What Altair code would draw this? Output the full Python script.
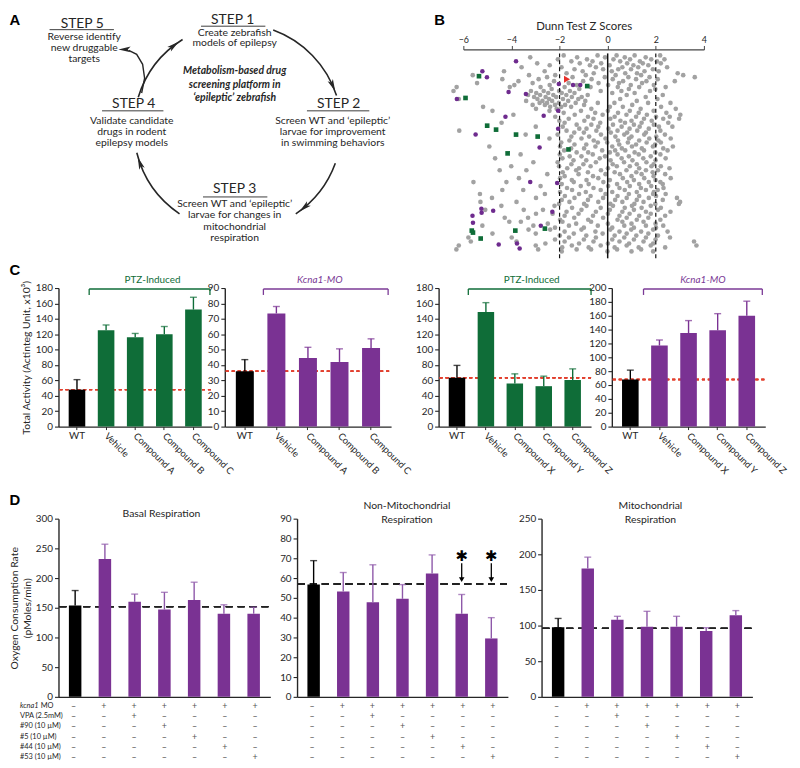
import math
import altair as alt
import pandas as pd

# ======================= DATA =======================
# ---- Panel B : Dunn test Z scores (z values of the grey compounds, per 2-px band) ----
B_ROWS = list(range(52, 251, 2))
B_GRAY = [
    [-1.83, -0.42, 0.37, 1.12, 2.18],
    [-3.22, -1.27, -0.11, 0.71, 1.58],
    [-2.07, -0.86, 0.24, 0.93, 1.81, 2.36],
    [-1.51, -0.63, 0.52, 1.34, 2.05],
    [-2.93, -1.16, -0.27, 0.81, 1.46, 2.21],
    [-2.41, -0.74, 0.08, 1.07, 1.69],
    [-3.58, -1.92, -0.49, 0.61, 1.27, 2.47],
    [-1.38, -0.19, 0.44, 0.97, 1.88],
    [-4.31, -2.62, -1.04, 0.17, 1.53, 2.12],
    [-1.71, -0.58, 0.73, 1.22, 2.91],
    [-5.61, -3.27, -2.18, -0.91, 0.33, 1.39, 3.14],
    [-2.52, -1.46, -0.12, 0.86, 1.74, 3.62],
    [-4.38, -2.87, -0.67, 0.21, 1.18, 2.08],
    [-3.71, -2.23, -1.02, 0.64, 1.61, 2.79],
    [-5.43, -3.12, -1.62, -0.38, 0.47, 1.43],
    [-3.88, -2.41, -1.28, 0.02, 0.96, 1.92],
    [-6.28, -4.07, -2.79, -1.79, -0.71, 0.42, 1.31, 2.41],
    [-2.33, -1.18, 0.88, 1.98],
    [-6.41, -3.19, -2.66, -2.02, -1.57, -0.29, 0.57, 1.76],
    [-2.97, -2.47, -1.91, -1.38, 0.19, 1.12],
    [-3.31, -2.81, -2.26, -1.72, -0.83, 0.79, 2.29],
    [-3.06, -2.58, -2.14, -1.49, -1.08, 1.58],
    [-6.19, -2.92, -2.44, -1.86, -1.22, 0.52, 2.07],
    [-3.39, -2.71, -2.31, -1.64, -0.93, 1.21],
    [-2.83, -2.52, -2.03, -1.33, -0.41, 0.28, 1.68, 2.61],
    [-3.12, -2.61, -2.19, -1.77, -0.98, 1.02],
    [-5.18, -2.39, -1.93, -1.52, 0.09, 0.63, 2.22],
    [-2.98, -2.12, -0.68, 1.37, 2.83],
    [-4.79, -2.42, -1.11, 0.01, 0.92, 1.91],
    [-1.83, -0.52, 0.43, 1.29, 2.44],
    [-3.92, -1.37, -0.21, 0.78, 1.63, 3.02],
    [-2.18, -0.82, 0.29, 1.18, 2.01, 2.58],
    [-1.62, -0.59, 0.11, 1.51, 2.31, 2.97],
    [-2.01, -0.97, 0.53, 0.99, 1.83],
    [-4.41, -1.79, -0.31, 0.72, 1.41, 2.52],
    [-1.29, -0.68, 0.22, 1.09, 1.92],
    [-2.99, -1.87, -0.39, 0.58, 1.33, 2.13, 2.69],
    [-1.18, -0.88, 0.03, 0.91, 1.71],
    [-6.17, -1.71, -0.47, 0.41, 1.23, 2.19],
    [-1.39, -0.99, 0.13, 0.81, 1.59],
    [-3.41, -2.08, -0.28, 0.69, 1.52, 2.38],
    [-1.51, -0.77, 0.32, 0.99, 2.02],
    [-2.42, -1.09, -0.09, 0.89, 1.73, 2.62],
    [-1.59, -0.58, 0.43, 1.31, 2.11],
    [-1.93, -0.41, -0.02, 0.84, 1.62, 2.21],
    [-1.38, -0.89, 0.48, 1.18, 1.97],
    [-4.92, -1.98, -0.51, 0.19, 1.01, 1.88, 2.71],
    [-1.52, -0.98, 0.59, 1.42, 2.31],
    [-1.81, -0.23, 0.31, 0.73, 1.51, 2.49],
    [-1.29, -0.81, 0.09, 1.12, 1.98],
    [-3.62, -1.99, -0.62, 0.41, 1.29, 2.19],
    [-1.58, -1.09, -0.11, 0.88, 1.79],
    [-4.68, -1.88, -0.33, 0.58, 1.48, 2.41],
    [-1.42, -0.89, 0.12, 1.03, 1.99],
    [-3.09, -2.08, -0.49, 0.68, 1.61],
    [-1.51, -1.01, 0.21, 1.21, 1.91],
    [-4.01, -2.02, -0.71, 0.38, 0.92, 1.82, 2.21],
    [-1.68, -1.19, 0.01, 1.31, 2.57],
    [-4.49, -3.38, -1.31, -0.28, 0.78, 1.59, 2.09],
    [-1.87, -0.82, 0.29, 1.19, 1.87],
    [-2.51, -1.21, -0.09, 0.51, 1.41, 2.39],
    [-1.79, -0.61, 0.99, 1.91],
    [-3.69, -1.98, -0.39, 0.63, 1.52, 2.62],
    [-1.49, -0.88, 0.09, 1.09, 1.99],
    [-5.58, -4.21, -1.41, -0.18, 0.81, 1.71, 2.19],
    [-1.91, -0.79, 0.39, 1.31, 2.29],
    [-2.79, -1.12, 0.02, 0.92, 1.81],
    [-1.69, -0.59, 0.49, 1.38, 2.32],
    [-4.38, -3.51, -1.48, -0.29, 0.71, 1.59, 2.08],
    [-1.98, -0.91, 0.19, 1.21, 1.92],
    [-5.31, -2.61, -1.19, -0.09, 0.88, 1.89, 2.41],
    [-1.78, -0.71, 0.41, 1.31, 2.01],
    [-4.81, -2.98, -1.38, -0.19, 0.79, 1.71, 2.88],
    [-1.91, -0.82, 0.31, 1.21, 2.29],
    [-5.29, -3.79, -1.59, -0.39, 0.61, 1.49, 3.01],
    [-2.02, -0.98, 0.11, 1.11, 1.98, 2.96],
    [-4.42, -2.21, -0.88, 0.22, 1.01, 1.79],
    [-1.48, -0.29, 0.71, 1.41, 2.21],
    [-5.09, -3.49, -2.69, -1.09, 0.09, 1.09, 2.09],
    [-1.71, -0.49, 0.61, 1.59, 2.61],
    [-2.98, -2.29, -1.21, 0.01, 0.91, 1.79],
    [-1.79, -0.61, 0.49, 1.31, 2.39],
    [-4.28, -3.31, -1.39, -0.19, 0.79, 1.69],
    [-1.98, -0.81, 0.41, 1.21, 2.19],
    [-4.09, -3.61, -1.88, -0.69, 0.61, 1.49],
    [-2.49, -1.31, 0.01, 0.99, 1.99],
    [-5.21, -3.09, -1.61, -0.41, 0.69, 1.59, 2.31],
    [-2.19, -0.99, 0.19, 1.09, 2.01],
    [-3.29, -2.39, -1.09, 0.11, 0.98, 1.89],
    [-1.79, -0.51, 0.49, 1.39, 2.49],
    [-4.79, -2.99, -1.41, -0.21, 0.79, 1.69],
    [-1.99, -0.89, 0.29, 1.19, 2.09],
    [-5.79, -3.99, -1.61, -0.49, 0.69, 1.59, 2.59],
    [-2.19, -0.99, 0.19, 1.09, 1.99],
    [-5.69, -3.79, -1.79, -0.59, 0.49, 1.49, 3.59],
    [-2.59, -1.19, 0.01, 0.89, 1.89],
    [-6.19, -2.99, -1.49, -0.29, 0.79, 1.79, 3.69],
    [-1.89, -0.79, 0.29, 1.29, 2.39],
    [-6.29, -2.89, -1.29, -0.69, 0.39, 1.39],
    [-1.91, -0.01, 0.99, 1.89],
]
B_PURPLE_Z = [-3.81, -5.21, -5.02, -2.03, -1.44, -1.14, -4.12, -3.40, -6.27, -2.06, -4.25, -2.66,
              -5.49, -2.06, -2.83, -3.22, -2.10, -2.30, -5.25, -4.76, -5.62, -5.24, -5.60, -2.78,
              -4.53, -3.77, -3.66]
B_PURPLE_ROW = [58, 68, 74, 81, 82, 82, 89, 91, 96, 108, 114, 113, 132, 126, 145, 180, 181, 210,
                207, 209, 214, 211, 221, 224, 243, 242, 247]
B_GREEN_Z = [-5.35, -0.85, -5.91, -5.01, -4.64, -3.81, -2.91, -1.63, -4.16, -5.65, -5.60, -5.28,
             -3.84, -2.61]
B_GREEN_ROW = [73, 83, 95, 123, 127, 132, 134, 147, 151, 229, 231, 237, 229, 227]
B_RED_Z = [-1.69]
B_RED_ROW = [76]

# ---- Panel C : total activity ----
C_CATS_ABC = ["WT", "Vehicle", "Compound A", "Compound B", "Compound C"]
C_CATS_XYZ = ["WT", "Vehicle", "Compound X", "Compound Y", "Compound Z"]
C1_MEAN = [48, 125, 116, 120, 152]
C1_TOP = [61, 132, 121, 130, 168]
C2_MEAN = [36, 73.5, 44.5, 42, 51]
C2_TOP = [43.5, 78, 51.5, 50.5, 57]
C3_MEAN = [63.5, 149, 56, 52.5, 60.5]
C3_TOP = [79.5, 161, 68.5, 65.5, 75]
C4_MEAN = [68, 117, 135, 139, 160]
C4_TOP = [81.5, 125, 153, 163, 181]

# ---- Panel D : oxygen consumption ----
D_CONDS = ["WT", "MO", "MO+VPA", "MO+#90", "MO+#5", "MO+#44", "MO+#53"]
D1_MEAN = [154, 232, 160, 147, 163, 140, 140]
D1_TOP = [179, 257, 173, 176, 193, 155, 151]
D2_MEAN = [56.7, 53.2, 47.8, 49.5, 62.3, 42, 29.5]
D2_TOP = [68.8, 62.8, 66.7, 56.7, 71.7, 51.7, 40]
D3_MEAN = [97.5, 180, 108, 98.5, 98.5, 92.5, 114.5]
D3_TOP = [110, 196, 113, 120, 113, 97, 121]
D_REF = [152, 57, 96]
D2_STAR_CONDS = ["MO+#44", "MO+#53"]
D_ROWS = ["kcna1 MO", "VPA (2.5mM)", "#90 (10 \u00b5M)", "#5 (10 \u00b5M)", "#44 (10 \u00b5M)", "#53 (10 \u00b5M)"]
D_SIGNS = ["-++++++", "--+----", "---+---", "----+--", "-----+-", "------+"]

# ======================= STYLE / LAYOUT =======================
OX, OY = 8, 8
W, H = 792, 760


def X(p):
    return p - OX


def Y(p):
    return p - OY


FONT = "Lato"
INK = "#262626"
GREEN = "#0f6d38"
PURPLE = "#7a3293"
PURPLE_ERR = "#8e58a9"
GRAY = "#a2a2a2"
RED = "#e2402f"

layers = []

# ======================= PANEL A (diagram) =======================
A_CX, A_CY, A_R = 240, 125, 105
ax = alt.Scale(domain=[-100, 100], range=[X(A_CX - 100), X(A_CX + 100)], nice=False, zero=False)
ay = alt.Scale(domain=[-100, 100], range=[Y(A_CY - 100), Y(A_CY + 100)], nice=False, zero=False)


def axy(xf="x", yf="y"):
    return dict(x=alt.X(f"{xf}:Q", scale=ax, axis=None), y=alt.Y(f"{yf}:Q", scale=ay, axis=None))


ARC_SEGS = [(20, 72), (110, 146), (214, 256), (287, 328)]
arc_df = pd.DataFrame({
    "x": [0] * len(ARC_SEGS), "y": [0] * len(ARC_SEGS),
    "t0": [math.radians(a) for a, b in ARC_SEGS],
    "t1": [math.radians(b) for a, b in ARC_SEGS],
})
arcs = alt.Chart(arc_df).mark_arc(radius=A_R + 0.8, innerRadius=A_R - 0.8, color=INK).encode(
    **axy(), theta=alt.Theta("t0:Q", scale=None), theta2=alt.Theta2("t1:Q"))

head_t = [b - 6 for a, b in ARC_SEGS]
head_df = pd.DataFrame({
    "x": [A_R * math.sin(math.radians(t)) for t in head_t] + [-114],
    "y": [-A_R * math.cos(math.radians(t)) for t in head_t] + [-79],
    "ang": [t + 90 for t in head_t] + [270],
})
ARROW = "M0,-1L0.45,0.9L0,0.45L-0.45,0.9Z"
heads = alt.Chart(head_df).mark_point(shape=ARROW, filled=True, size=170, color=INK, opacity=1,
                                       strokeWidth=0).encode(**axy(), angle=alt.Angle("ang:Q", scale=None))

branch_df = pd.DataFrame({"x": [-97, -94, -96, -102, -110], "y": [-35, -50, -64, -74, -78],
                          "o": [0, 1, 2, 3, 4]})
branch = alt.Chart(branch_df).mark_line(color=INK, strokeWidth=1.4).encode(**axy(), order="o:Q")

ul_df = pd.DataFrame({"x1": [-37, -190, 70, -137, -35], "x2": [28, -125, 133, -75, 30],
                      "y": [-102.5, -99, -17, -17, 70]})
underl = alt.Chart(ul_df).mark_rule(color=INK, strokeWidth=0.9).encode(
    x=alt.X("x1:Q", scale=ax, axis=None), x2="x2:Q", y=alt.Y("y:Q", scale=ay, axis=None))

step_df = pd.DataFrame({"t": ["STEP 1", "STEP 5", "STEP 2", "STEP 4", "STEP 3"],
                        "x": [-5, -157, 102, -105, -3], "y": [-109, -105, -24, -24, 62]})
steps = alt.Chart(step_df).mark_text(font=FONT, fontSize=14, color=INK).encode(**axy(), text="t:N")

body_df = pd.DataFrame({
    "t": ["Create zebrafish", "models of epilepsy",
          "Reverse identify", "new druggable", "targets",
          "Screen WT and \u2018epileptic\u2019", "larvae for improvement", "in swimming behaviors",
          "Validate candidate", "drugs in rodent", "epilepsy models",
          "Screen WT and \u2018epileptic\u2019", "larvae for changes in", "mitochondrial", "respiration"],
    "x": [-3, -3, -155, -155, -155, 96, 96, 96, -107, -107, -107, -3, -3, -3, -3],
    "y": [-96, -85, -92, -80.5, -69, -7, 4.5, 16, -7, 4.5, 16, 77, 88.5, 100, 111.5],
})
body = alt.Chart(body_df).mark_text(font=FONT, fontSize=10.5, color=INK).encode(**axy(), text="t:N")

center_df = pd.DataFrame({"t": ["Metabolism-based drug", "screening platform in",
                                "\u2018epileptic\u2019 zebrafish"],
                          "x": [-3, -3, -3], "y": [-57, -43.5, -30]})
center = alt.Chart(center_df).mark_text(font=FONT, fontSize=10.5, fontWeight="bold", fontStyle="italic",
                                        color=INK).encode(**axy(), text="t:N")

layers.append(alt.layer(arcs, heads, branch, underl, steps, body, center))

# ======================= PANEL B (strip plot) =======================
bx = alt.Scale(domain=[-6, 4], range=[X(468), X(711)], nice=False, zero=False)
by = alt.Scale(domain=[46, 257], range=[Y(46), Y(257)], nice=False, zero=False)
b_axis = alt.Axis(orient="top", offset=-Y(46), values=[-6, -4, -2, 0, 2, 4], title="Dunn Test Z Scores",
                  titleFontSize=11.5, titlePadding=4, titleFontWeight="normal", labelFontSize=9,
                  tickSize=4, domainColor="#444", tickColor="#444", domainWidth=1.3, grid=False,
                  labelPadding=1, labelFlush=False)


def bxy():
    return dict(x=alt.X("z:Q", scale=bx, axis=b_axis), y=alt.Y("row:Q", scale=by, axis=None))


gray_recs = [{"z": z, "row": r} for r, zs in zip(B_ROWS, B_GRAY) for z in zs]
gray = alt.Chart(pd.DataFrame(gray_recs)).mark_circle(size=22, color=GRAY, opacity=1).encode(**bxy())
purple = alt.Chart(pd.DataFrame({"z": B_PURPLE_Z, "row": B_PURPLE_ROW})).mark_circle(
    size=21, color="#6e2b8e", opacity=1).encode(**bxy())
green = alt.Chart(pd.DataFrame({"z": B_GREEN_Z, "row": B_GREEN_ROW})).mark_square(
    size=22, color=GREEN, opacity=1).encode(**bxy())
red = alt.Chart(pd.DataFrame({"z": B_RED_Z, "row": B_RED_ROW})).mark_point(
    shape="triangle-right", filled=True, size=50, color="#e8302a", opacity=1).encode(**bxy())
rule_df = pd.DataFrame({"z": [0]})
dash_df = pd.DataFrame({"z": [-2, 2]})
b_solid = alt.Chart(rule_df).mark_rule(color="#111", strokeWidth=1.5).encode(
    x=alt.X("z:Q", scale=bx, axis=b_axis), y=alt.Y(datum=50, scale=by, axis=None), y2=alt.Y2(datum=257))
b_dash = alt.Chart(dash_df).mark_rule(color="#111", strokeWidth=1.2, strokeDash=[4, 3]).encode(
    x=alt.X("z:Q", scale=bx, axis=b_axis), y=alt.Y(datum=50, scale=by, axis=None), y2=alt.Y2(datum=257))
layers.append(alt.layer(gray, b_solid, b_dash, purple, green, red))


# ======================= BAR PANELS (C and D) =======================
def bar_panel(cats, means, tops, ref, color, err_color, left, right, top_px, bot_px, ymax, ticks,
              p_inner, p_outer, ref_color, ref_dash, ytitle=None, title_pad=2, x_ticks=True,
              x_labels=False, stars=None):
    df = pd.DataFrame({"cat": cats, "mean": means, "top": tops})
    xsc = alt.Scale(domain=cats, range=[X(left), X(right)], paddingInner=p_inner, paddingOuter=p_outer)
    ysc = alt.Scale(domain=[0, ymax], range=[Y(bot_px), Y(top_px)], nice=False, zero=False)
    xax = alt.Axis(orient="bottom", offset=Y(bot_px) - H, labels=False, ticks=x_ticks, tickSize=3,
                   domainColor=INK, domainWidth=1.4, tickColor=INK, grid=False, title=None)
    ykw = dict(orient="left", offset=-X(left), values=ticks, tickSize=4, labelFontSize=10,
               labelPadding=2, domainColor=INK, domainWidth=1.4, tickColor=INK, tickWidth=1.1,
               grid=False, labelFlush=False)
    if ytitle:
        ykw.update(title=ytitle, titlePadding=title_pad, titleFontSize=10.5, titleFontWeight="normal")
    else:
        ykw.update(title=None)
    yax = alt.Axis(**ykw)
    xe = alt.X("cat:N", scale=xsc, axis=xax)
    wt = alt.datum.cat == "WT"
    parts = []
    parts.append(alt.Chart(df).mark_rule(color=ref_color, strokeDash=ref_dash, strokeWidth=1.4).encode(
        y=alt.Y(datum=ref, scale=ysc, axis=yax), x=alt.value(X(left) + 1), x2=alt.value(X(right))))
    parts.append(alt.Chart(df).mark_bar().encode(
        x=xe, y=alt.Y("mean:Q", scale=ysc, axis=yax),
        color=alt.condition(wt, alt.value("#000000"), alt.value(color))))
    parts.append(alt.Chart(df).mark_rule(strokeWidth=1.4).encode(
        x=xe, y=alt.Y("mean:Q", scale=ysc, axis=yax), y2="top:Q",
        color=alt.condition(wt, alt.value("#000000"), alt.value(err_color))))
    parts.append(alt.Chart(df).mark_tick(thickness=1.4, size=7).encode(
        x=xe, y=alt.Y("top:Q", scale=ysc, axis=yax),
        color=alt.condition(wt, alt.value("#000000"), alt.value(err_color))))
    if x_labels:
        parts.append(alt.Chart(df).transform_filter(wt).mark_text(
            font=FONT, fontSize=10, color=INK, baseline="top").encode(
            x=xe, y=alt.value(Y(bot_px + 5)), text="cat:N"))
        parts.append(alt.Chart(df).transform_filter(alt.datum.cat != "WT").mark_text(
            font=FONT, fontSize=9.5, color=INK, align="left", baseline="middle", angle=45).encode(
            x=xe, y=alt.value(Y(bot_px + 8)), text="cat:N"))
    if stars:
        sdf = pd.DataFrame({"cat": stars})
        parts.append(alt.Chart(sdf).mark_text(font="DejaVu Sans", fontSize=15, color="#000",
                                              fontWeight="bold").encode(
            x=xe, y=alt.Y(datum=ref + 14, scale=ysc, axis=yax), text=alt.value("\u2731")))
        parts.append(alt.Chart(sdf).mark_rule(color="#000", strokeWidth=1.3).encode(
            x=xe, y=alt.Y(datum=ref + 10.5, scale=ysc, axis=yax), y2=alt.Y2(datum=ref + 3)))
        parts.append(alt.Chart(sdf).mark_point(shape="triangle-down", filled=True, size=32, color="#000",
                                               opacity=1).encode(
            x=xe, y=alt.Y(datum=ref + 2.2, scale=ysc, axis=yax)))
    return alt.layer(*parts)


C_TOP, C_BOT = 287, 427
C_PI, C_PO = 0.43, 0.35
layers.append(bar_panel(C_CATS_ABC, C1_MEAN, C1_TOP, C1_MEAN[0], GREEN, GREEN, 59, 214, C_TOP, C_BOT,
                        180, list(range(0, 181, 20)), C_PI, C_PO, RED, [3, 3],
                        ytitle="Total Activity (Actinteg Unit, x10\u00b3)", title_pad=4, x_labels=True))
layers.append(bar_panel(C_CATS_ABC, C2_MEAN, C2_TOP, C2_MEAN[0], PURPLE, PURPLE, 227, 395, C_TOP, C_BOT,
                        90, list(range(0, 91, 10)), C_PI, C_PO, RED, [3, 3], x_labels=True))
layers.append(bar_panel(C_CATS_XYZ, C3_MEAN, C3_TOP, C3_MEAN[0], GREEN, GREEN, 443, 597, C_TOP, C_BOT,
                        180, list(range(0, 181, 20)), C_PI, C_PO, RED, [3, 3], x_labels=True))
layers.append(bar_panel(C_CATS_XYZ, C4_MEAN, C4_TOP, C4_MEAN[0], PURPLE, PURPLE, 618, 773, C_TOP, C_BOT,
                        200, list(range(0, 201, 20)), C_PI, C_PO, RED, [3, 3], x_labels=True))

D_TOP, D_BOT = 520, 700
D_PI, D_PO = 0.58, 0.35
D_PANELS = [(59, 273), (300, 513), (547, 760)]
layers.append(bar_panel(D_CONDS, D1_MEAN, D1_TOP, D_REF[0], PURPLE, PURPLE_ERR, 59, 273, D_TOP, D_BOT,
                        300, list(range(0, 301, 50)), D_PI, D_PO, "#222", [7, 5],
                        ytitle=["Oxygen Consumption Rate", "(pMoles/min)"], title_pad=3, x_ticks=False))
layers.append(bar_panel(D_CONDS, D2_MEAN, D2_TOP, D_REF[1], PURPLE, PURPLE_ERR, 300, 513, D_TOP, D_BOT,
                        90, list(range(0, 91, 10)), D_PI, D_PO, "#222", [7, 5], x_ticks=False,
                        stars=D2_STAR_CONDS))
layers.append(bar_panel(D_CONDS, D3_MEAN, D3_TOP, D_REF[2], PURPLE, PURPLE_ERR, 547, 760, D_TOP, D_BOT,
                        250, list(range(0, 251, 50)), D_PI, D_PO, "#222", [7, 5], x_ticks=False))


# ======================= TABLE under panel D =======================
def table_panel(left, right, with_labels):
    recs = []
    for r, row in enumerate(D_ROWS):
        for c, cat in enumerate(D_CONDS):
            recs.append({"cat": cat, "row": row, "sign": "+" if D_SIGNS[r][c] == "+" else "\u2013"})
    df = pd.DataFrame(recs)
    xsc = alt.Scale(domain=D_CONDS, range=[X(left), X(right)], paddingInner=D_PI, paddingOuter=D_PO)
    ysc = alt.Scale(type="point", domain=D_ROWS, range=[Y(709), Y(761)], padding=0)
    parts = [alt.Chart(df).mark_text(font=FONT, fontSize=9, color="#555").encode(
        x=alt.X("cat:N", scale=xsc, axis=None), y=alt.Y("row:N", scale=ysc, axis=None), text="sign:N")]
    if with_labels:
        ldf = pd.DataFrame({"row": D_ROWS[1:]})
        parts.append(alt.Chart(ldf).mark_text(font=FONT, fontSize=7.5, color=INK, align="left").encode(
            x=alt.value(X(20)), y=alt.Y("row:N", scale=ysc, axis=None), text="row:N"))
        kdf = pd.DataFrame({"row": [D_ROWS[0]], "a": ["kcna1"], "b": ["MO"]})
        parts.append(alt.Chart(kdf).mark_text(font=FONT, fontSize=7.5, color=INK, align="left",
                                              fontStyle="italic").encode(
            x=alt.value(X(20)), y=alt.Y("row:N", scale=ysc, axis=None), text="a:N"))
        parts.append(alt.Chart(kdf).mark_text(font=FONT, fontSize=7.5, color=INK, align="left").encode(
            x=alt.value(X(41)), y=alt.Y("row:N", scale=ysc, axis=None), text="b:N"))
    return alt.layer(*parts)


for i, (l, r) in enumerate(D_PANELS):
    layers.append(table_panel(l, r, i == 0))

# ======================= ANNOTATIONS =======================
px = dict(x=alt.X("px:Q", scale=None), y=alt.Y("py:Q", scale=None))

let_df = pd.DataFrame({"t": ["A", "B", "C", "D"], "px": [X(15), X(444), X(15), X(15)],
                       "py": [Y(16), Y(16), Y(269), Y(501)]})
layers.append(alt.Chart(let_df).mark_text(font="Liberation Sans", fontWeight="bold", fontSize=15,
                                          color="#000").encode(**px, text="t:N"))

title_df = pd.DataFrame({"t": ["Basal Respiration", "Non-Mitochondrial", "Respiration", "Mitochondrial",
                               "Respiration"],
                         "px": [X(163), X(411), X(411), X(657), X(657)],
                         "py": [Y(515), Y(507), Y(521), Y(507), Y(521)]})
layers.append(alt.Chart(title_df).mark_text(font=FONT, fontSize=10.5, color=INK).encode(**px, text="t:N"))

# group brackets over panel C
BR_Y, BR_TICK = 288, 6
br_df = pd.DataFrame({"x1": [X(90), X(266), X(473), X(650)], "x2": [X(212), X(392), X(597), X(770)],
                      "col": [GREEN, "#7b3a96", GREEN, "#7b3a96"]})
br_df["y"] = Y(BR_Y)
br_df["y2"] = Y(BR_Y + BR_TICK)
layers.append(alt.Chart(br_df).mark_rule(strokeWidth=1.3).encode(
    x=alt.X("x1:Q", scale=None), x2="x2:Q", y=alt.Y("y:Q", scale=None),
    color=alt.Color("col:N", scale=None)))
layers.append(alt.Chart(br_df).mark_rule(strokeWidth=1.3).encode(
    x=alt.X("x1:Q", scale=None), y=alt.Y("y:Q", scale=None), y2="y2:Q",
    color=alt.Color("col:N", scale=None)))
layers.append(alt.Chart(br_df).mark_rule(strokeWidth=1.3).encode(
    x=alt.X("x2:Q", scale=None), y=alt.Y("y:Q", scale=None), y2="y2:Q",
    color=alt.Color("col:N", scale=None)))
grp_df = pd.DataFrame({"t": ["PTZ-Induced", "PTZ-Induced"], "px": [X(154), X(537)], "py": [Y(279), Y(279)]})
layers.append(alt.Chart(grp_df).mark_text(font=FONT, fontSize=10, color=GREEN).encode(**px, text="t:N"))
mo_df = pd.DataFrame({"t": ["Kcna1-MO", "Kcna1-MO"], "px": [X(323), X(710)], "py": [Y(279), Y(279)]})
layers.append(alt.Chart(mo_df).mark_text(font=FONT, fontSize=10, color="#7b3a96",
                                         fontStyle="italic").encode(**px, text="t:N"))

chart = alt.layer(*layers).resolve_scale(x="independent", y="independent").properties(
    width=W, height=H, autosize=alt.AutoSizeParams(type="none"), padding=0
).configure_view(strokeWidth=0).configure_axis(
    labelFont=FONT, titleFont=FONT, labelColor=INK, titleColor=INK
)

chart.save("out.html", embed_options={"renderer": "svg", "actions": False})
